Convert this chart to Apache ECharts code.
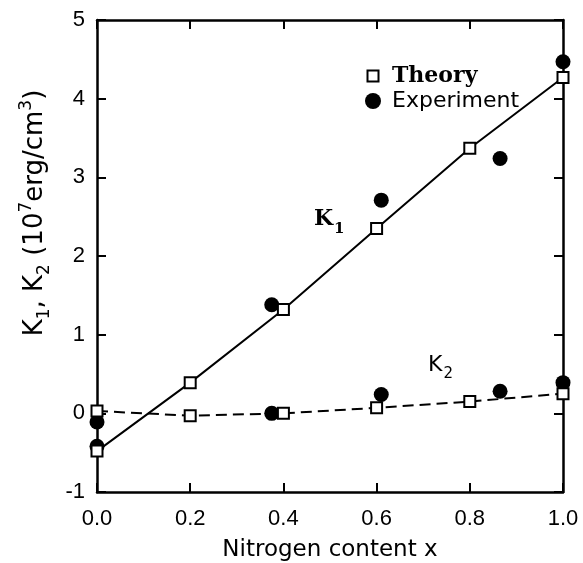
<!DOCTYPE html>
<html><head><meta charset="utf-8">
<script src="https://cdn.jsdelivr.net/npm/echarts@6/dist/echarts.min.js"></script>
<style>html,body{margin:0;padding:0;background:#fff}#c{width:583px;height:563px}</style>
</head><body><div id="c"></div>
<script>
// ---- data ----
const theoryX  = [0, 0.2, 0.4, 0.6, 0.8, 1.0];
const theoryK1 = [-0.48, 0.39, 1.32, 2.35, 3.37, 4.27];
const theoryK2 = [0.03, -0.03, 0.00, 0.07, 0.15, 0.25];
const expX     = [0, 0.375, 0.61, 0.865, 1.0];
const expK1    = [-0.42, 1.38, 2.71, 3.24, 4.47];
const expK2    = [-0.11, 0.00, 0.24, 0.28, 0.39];
const xMin = 0, xMax = 1, xStep = 0.2;
const yMin = -1, yMax = 5, yStep = 1;
const legendNames = ['Theory', 'Experiment'];

const zip = (a, b) => a.map((v, i) => [v, b[i]]);
const SANS = 'DejaVu Sans';
const HELV = 'Liberation Sans';
const SERIF = 'DejaVu Serif';

const axisLine = {show: true, onZero: false, lineStyle: {color: '#000', width: 2.5}};
const axisTick = {show: true, inside: true, length: 9, lineStyle: {color: '#000', width: 2}};

const chart = echarts.init(document.getElementById('c'), null, {renderer: 'canvas'});
chart.setOption({
  backgroundColor: '#fff',
  animation: false,
  grid: {left: 97, right: 20, top: 20, bottom: 71, containLabel: false, outerBoundsMode: 'none'},
  legend: {
    orient: 'vertical', left: 359, top: 60, itemWidth: 16, itemHeight: 16, itemGap: 3,
    textStyle: {color: '#000', lineHeight: 22, padding: [0, 0, 0, 6]},
    data: [
      {name: legendNames[0], icon: 'path://M0,0L0,0M16,16L16,16M2.5,2.5L13.5,2.5L13.5,13.5L2.5,13.5Z',
       textStyle: {fontFamily: SERIF, fontWeight: 'bold', fontSize: 22}},
      {name: legendNames[1], textStyle: {fontFamily: SANS, fontSize: 22}}
    ]
  },
  xAxis: [
    {type: 'value', position: 'bottom', min: xMin, max: xMax, interval: xStep,
     axisLine, axisTick, splitLine: {show: false},
     axisLabel: {color: '#000', fontFamily: HELV, fontSize: 22, margin: 16, formatter: v => v.toFixed(1)},
     name: 'Nitrogen content x', nameLocation: 'middle', nameGap: 47,
     nameTextStyle: {color: '#000', fontFamily: SANS, fontSize: 23}},
    {type: 'value', position: 'top', min: xMin, max: xMax, interval: xStep,
     axisLine, axisTick, splitLine: {show: false}, axisLabel: {show: false}}
  ],
  yAxis: [
    {type: 'value', position: 'left', min: yMin, max: yMax, interval: yStep,
     axisLine, axisTick, splitLine: {show: false},
     axisLabel: {color: '#000', fontFamily: HELV, fontSize: 22, margin: 12}},
    {type: 'value', position: 'right', min: yMin, max: yMax, interval: yStep,
     axisLine, axisTick, splitLine: {show: false}, axisLabel: {show: false}}
  ],
  series: [
    {name: 'K1 fit', type: 'line', data: zip(theoryX, theoryK1), showSymbol: false, silent: true,
     lineStyle: {color: '#000', width: 2}, z: 2},
    {name: 'K2 fit', type: 'line', data: zip(theoryX, theoryK2), showSymbol: false, silent: true,
     lineStyle: {color: '#000', width: 2, type: [11, 6]}, z: 2},
    {name: legendNames[1], type: 'scatter', data: zip(expX, expK1).concat(zip(expX, expK2)),
     symbol: 'circle', symbolSize: 15, itemStyle: {color: '#000', opacity: 1}, z: 3, clip: false},
    {name: legendNames[0], type: 'scatter', data: zip(theoryX, theoryK1).concat(zip(theoryX, theoryK2)),
     symbol: 'rect', symbolSize: 11, itemStyle: {color: '#fff', borderColor: '#000', borderWidth: 2, opacity: 1}, z: 4, clip: false}
  ],
  graphic: [
    {type: 'text', x: 18, y: 213, rotation: Math.PI / 2,
     style: {
       text: '{m|K}{s|1}{m|, K}{s|2}{m| (10}{p|7}{m|erg/cm}{p|3}{m|)}',
       align: 'center', verticalAlign: 'top', fill: '#000',
       rich: {
         m: {fontFamily: SANS, fontSize: 26, verticalAlign: 'top', padding: [4, 0, 0, 0]},
         s: {fontFamily: SANS, fontSize: 17, verticalAlign: 'top', padding: [18, 0, 0, 0]},
         p: {fontFamily: SANS, fontSize: 17, verticalAlign: 'top', padding: [0, 0, 0, 0]}
       }
     }},
    {type: 'text', x: 314, y: 205,
     style: {
       text: '{m|K}{s|1}', align: 'left', verticalAlign: 'top', fill: '#000',
       rich: {
         m: {fontFamily: SERIF, fontWeight: 'bold', fontSize: 22, verticalAlign: 'top', padding: [3, 0, 0, 0]},
         s: {fontFamily: SERIF, fontWeight: 'bold', fontSize: 15, verticalAlign: 'top', padding: [17, 0, 0, 1]}
       }
     }},
    {type: 'text', x: 428, y: 351,
     style: {
       text: '{m|K}{s|2}', align: 'left', verticalAlign: 'top', fill: '#000',
       rich: {
         m: {fontFamily: SANS, fontSize: 22, verticalAlign: 'top', padding: [3, 0, 0, 0]},
         s: {fontFamily: SANS, fontSize: 15, verticalAlign: 'top', padding: [16, 0, 0, 1]}
       }
     }}
  ]
});
</script>
</body></html>
